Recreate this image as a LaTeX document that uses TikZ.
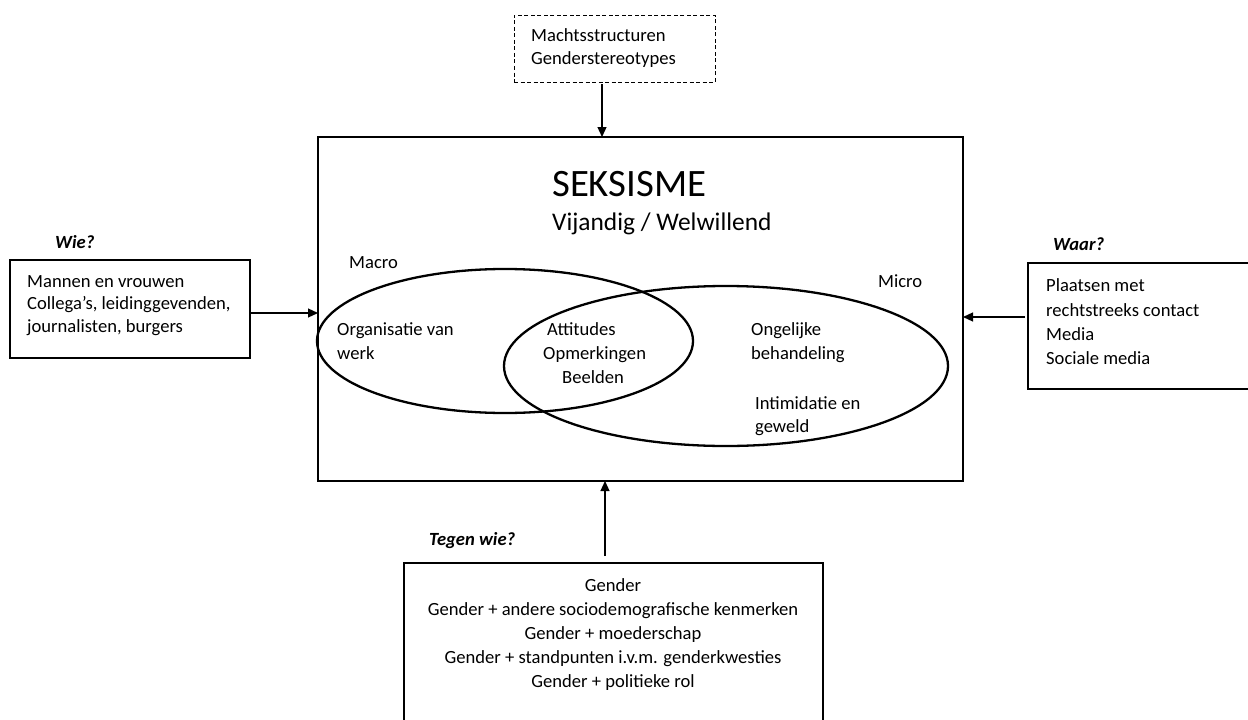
\documentclass[tikz,border=0pt]{standalone}
\usepackage{fontspec}
\setmainfont{Carlito}
\usetikzlibrary{arrows.meta}
\begin{document}
\begin{tikzpicture}[x=1pt,y=-1pt,
  box/.style={draw, line width=1.2pt, inner sep=0pt, outer sep=0pt},
  mainbox/.style={draw, line width=2.5pt, inner sep=0pt, outer sep=0pt},
  txt/.style={anchor=base west, inner sep=0pt, font=\fontsize{18.6}{21}\selectfont},
  ctxt/.style={anchor=base, inner sep=0pt, font=\fontsize{18.6}{21}\selectfont},
  lbl/.style={anchor=base west, inner sep=0pt, font=\fontsize{18.6}{21}\selectfont\bfseries\itshape},
  arr/.style={line width=1.2pt, -{Triangle[length=10pt,width=9pt]}},
  venn/.style={line width=2.3pt}]
\useasboundingbox (0,0) rectangle (1248,720);
\clip (0,0) rectangle (1248,720);
\fill[white] (0,0) rectangle (1248,720);

% boxes
\node[box, line width=1pt, dash pattern=on 4pt off 2.5pt, minimum width=201pt, minimum height=67pt] (top) at (614.5,48.5) {};
\node[mainbox, minimum width=645pt, minimum height=344pt] (main) at (640.5,309) {};
\node[box, minimum width=240pt, minimum height=98pt] (wie) at (130,309) {};
\node[box, minimum width=240pt, minimum height=126pt] (waar) at (1148,326) {};
\node[box, minimum width=419pt, minimum height=180pt] (tegen) at (613.5,653) {};

% ellipses
\draw[venn] (505,341) ellipse [x radius=188pt, y radius=72pt];
\draw[venn] (726,366) ellipse [x radius=222pt, y radius=80pt];

% arrows
\draw[arr] ([yshift=-2pt]top.south -| 602,0) -- (main.north -| 602,0);
\draw[arr] (wie.east |- 0,313) -- (main.west |- 0,313);
\draw[arr] ([xshift=-3pt]waar.west |- 0,317) -- (main.east |- 0,317);
\draw[arr] ([yshift=7pt]tegen.north -| 605,0) -- (main.south -| 605,0);

% top box text
\node[txt] (t1) at (531,41) {Machtsstructuren};
\node[txt] (t2) at (531,64) {Genderstereotypes};

% main titles
\node[anchor=base west, inner sep=0pt, font=\fontsize{38.8}{42}\selectfont] (title) at (552,196) {SEKSISME};
\node[anchor=base west, inner sep=0pt, font=\fontsize{25.4}{28}\selectfont] (sub) at (552,230) {Vijandig / Welwillend};

% Venn labels
\node[txt] (macro) at (349,268) {Macro};
\node[txt] (micro) at (878,287) {Micro};
\node[txt] (o1) at (337,335) {Organisatie van};
\node[txt] (o2) at (337,359) {werk};
\node[txt] (a1) at (547,335) {Attitudes};
\node[txt] (a2) at (543,359) {Opmerkingen};
\node[txt] (a3) at (562,383) {Beelden};
\node[txt] (m1) at (751,335) {Ongelijke};
\node[txt] (m2) at (751,359) {behandeling};
\node[txt] (m3) at (755,409) {Intimidatie en};
\node[txt] (m4) at (755,432) {geweld};

% Wie
\node[lbl] (wielbl) at (55,248) {Wie?};
\node[txt] (w1) at (27,287) {Mannen en vrouwen};
\node[txt] (w2) at (27,309.5) {Collega’s, leidinggevenden,};
\node[txt] (w3) at (27,332) {journalisten, burgers};

% Waar
\node[lbl] (waarlbl) at (1053,250) {Waar?};
\node[txt] (r1) at (1046,291) {Plaatsen met};
\node[txt] (r2) at (1046,316) {rechtstreeks contact};
\node[txt] (r3) at (1046,340) {Media};
\node[txt] (r4) at (1046,364) {Sociale media};

% Tegen wie
\node[lbl] (tegenlbl) at (429,545) {Tegen wie?};
\node[ctxt] (g1) at (613,591) {Gender};
\node[ctxt] (g2) at (613,615) {Gender + andere sociodemografische kenmerken};
\node[ctxt] (g3) at (613,639) {Gender + moederschap};
\node[ctxt] (g4) at (613,663) {Gender + standpunten i.v.m. genderkwesties};
\node[ctxt] (g5) at (613,687) {Gender + politieke rol};
\end{tikzpicture}
\end{document}
